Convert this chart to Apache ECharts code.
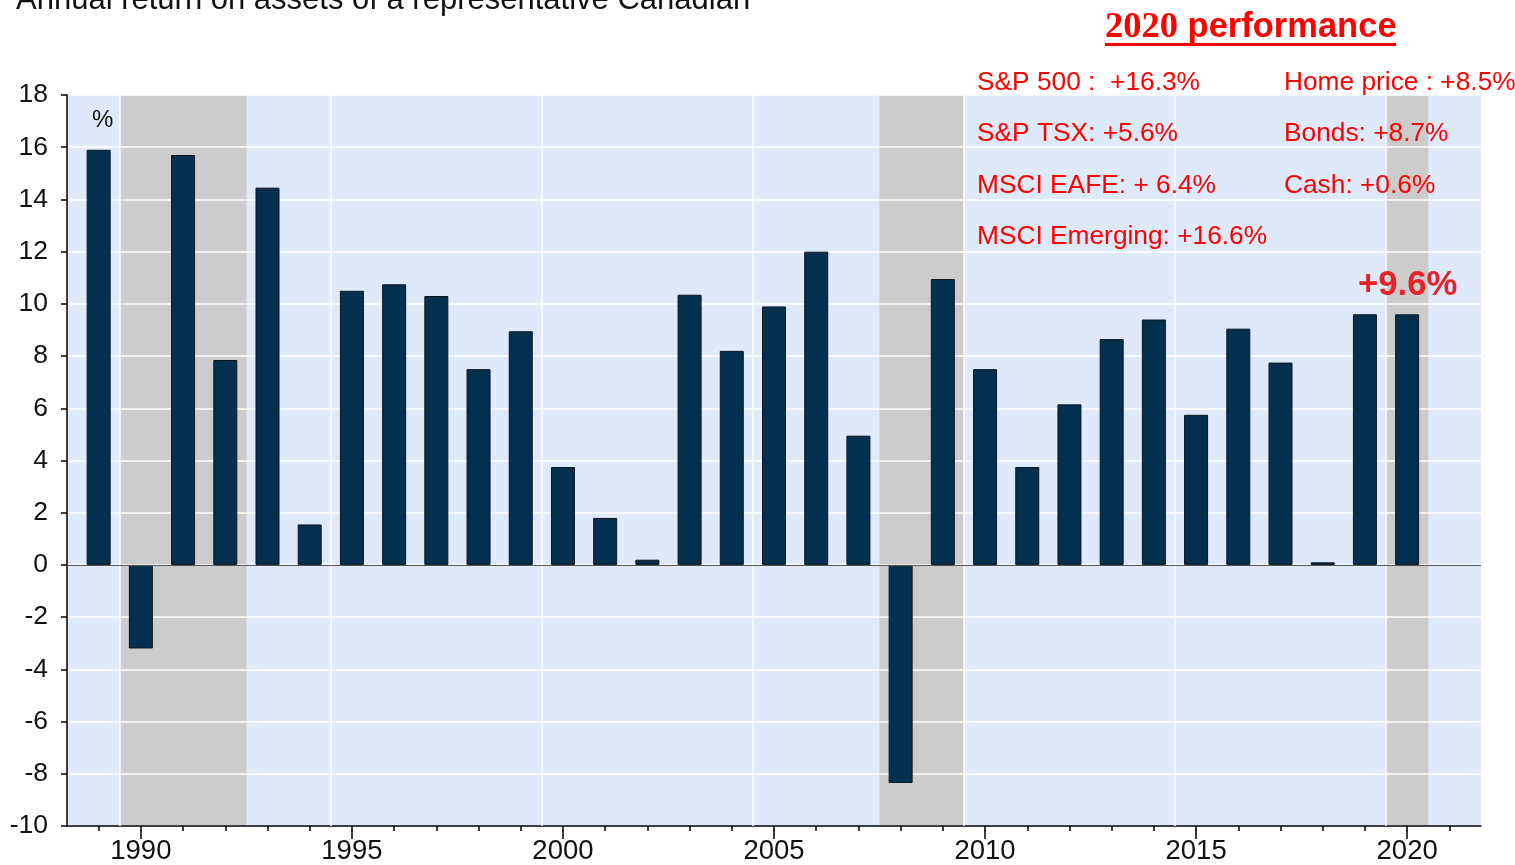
<!DOCTYPE html>
<html>
<head>
<meta charset="utf-8">
<script src="https://cdn.jsdelivr.net/npm/echarts@6/dist/echarts.min.js"></script>
<style>
html,body{margin:0;padding:0;background:#fff;}
#chart{width:1515px;height:865px;}
</style>
</head>
<body>
<div id="chart"></div>
<script>
// ---- data ----
const years = [1989,1990,1991,1992,1993,1994,1995,1996,1997,1998,1999,2000,2001,2002,2003,2004,
               2005,2006,2007,2008,2009,2010,2011,2012,2013,2014,2015,2016,2017,2018,2019,2020];
const returns = [15.9,-3.2,15.7,7.85,14.45,1.55,10.5,10.75,10.3,7.5,8.95,3.75,1.8,0.2,10.35,8.2,
                 9.9,12.0,4.95,-8.35,10.95,7.5,3.75,6.15,8.65,9.4,5.75,9.05,7.75,0.1,9.6,9.6];
const recessions = [[1990,1992],[2008,2009],[2020,2020]];
const xLabelYears = [1990,1995,2000,2005,2010,2015,2020];
const xTickYears = [1989,1990,1991,1992,1993,1994,1995,1996,1997,1998,1999,2000,2001,2002,2003,2004,2005,
                    2006,2007,2008,2009,2010,2011,2012,2013,2014,2015,2016,2017,2018,2019,2020,2021];
const yTicks = [-10,-8,-6,-4,-2,0,2,4,6,8,10,12,14,16,18];
const titleText = 'Annual return on assets of a representative Canadian';
const perfTitleYear = '2020';
const perfTitleRest = ' performance';
const perfLeft = ['S&P 500 :  +16.3%','S&P TSX: +5.6%','MSCI EAFE: + 6.4%','MSCI Emerging: +16.6%'];
const perfRight = ['Home price : +8.5%','Bonds: +8.7%','Cash: +0.6%'];
const latestLabel = '+9.6%';

// ---- chart ----
const X_MIN = 1988.25, X_MAX = 2021.75;
const FONT = '"Liberation Sans", Arial, sans-serif';
const chart = echarts.init(document.getElementById('chart'), null, {renderer:'canvas'});

const gridBox = {left:67, right:34, top:95, bottom:35};

const graphics = [
  {type:'text', left:16, top:-15, z:100, style:{text:titleText, font:'31px ' + FONT, fill:'#111'}},
  {type:'text', left:1105, top:9, z:100, style:{
    text:'{a|' + perfTitleYear + '}{b|' + perfTitleRest + '}',
    rich:{
      a:{fontFamily:'"Liberation Serif", "Times New Roman", serif', fontWeight:'bold', fontSize:36.5, fill:'#ff0000', color:'#ff0000'},
      b:{fontFamily:FONT, fontWeight:'bold', fontSize:34.5, fill:'#ff0000', color:'#ff0000'}
    }
  }},
  {type:'rect', left:1105, top:43, z:100, shape:{width:291, height:3}, style:{fill:'#ff0000'}},
  {type:'text', left:92, top:108, z:100, style:{text:'%', font:'24px ' + FONT, fill:'#111'}},
  {type:'text', left:1358, top:268, z:100, style:{text:latestLabel, font:'bold 34.7px ' + FONT, fill:'#e82229'}}
];
const rowTops = [70,121,173,224];
perfLeft.forEach((t,i)=>graphics.push({type:'text', left:977, top:rowTops[i], z:100,
  style:{text:t, font:'26.3px ' + FONT, fill:'#ff0000'}}));
perfRight.forEach((t,i)=>graphics.push({type:'text', left:1284, top:rowTops[i], z:100,
  style:{text:t, font:'26.3px ' + FONT, fill:'#ff0000'}}));

const option = {
  animation:false,
  backgroundColor:'#ffffff',
  grid:[
    Object.assign({show:true, backgroundColor:'#dee9fa', borderWidth:0, z:0}, gridBox),
    Object.assign({show:false}, gridBox)
  ],
  xAxis:[
    {type:'value', gridIndex:0, min:X_MIN, max:X_MAX, z:1.5,
     axisLine:{show:true, onZero:false, lineStyle:{color:'#000', width:1.5}},
     axisTick:{show:true, customValues:xTickYears, length:5, lineStyle:{color:'#000', width:1.5}},
     axisLabel:{show:true, customValues:xLabelYears, fontSize:27.5, fontFamily:FONT, color:'#111', margin:11,
                formatter:v=>String(v)},
     splitLine:{show:false}},
    {type:'value', gridIndex:1, min:X_MIN, max:X_MAX, position:'bottom',
     axisLine:{show:false, onZero:false},
     axisTick:{show:true, customValues:xLabelYears, length:9, lineStyle:{color:'#000', width:1.5}},
     axisLabel:{show:false},
     splitLine:{show:false}}
  ],
  yAxis:[
    {type:'value', gridIndex:0, min:-10, max:18, interval:2, z:1.5,
     axisLine:{show:true, lineStyle:{color:'#000', width:1.5}},
     axisTick:{show:true, length:6, lineStyle:{color:'#000', width:1.5}},
     axisLabel:{fontSize:26.5, fontFamily:FONT, color:'#111', margin:19, padding:[0,0,11,0]},
     splitLine:{show:true, lineStyle:{color:'#ffffff', width:1.5}}},
    {type:'value', gridIndex:1, min:-10, max:18, show:false}
  ],
  graphic:graphics,
  series:[
    {type:'line', name:'recessions', xAxisIndex:0, yAxisIndex:0, data:[], z:1, silent:true,
     markArea:{silent:true, itemStyle:{color:'#cccccc'}, label:{show:false},
       data:recessions.map(r=>[{xAxis:r[0]-0.5},{xAxis:r[1]+0.5}])}},
    {type:'line', name:'vgrid', xAxisIndex:0, yAxisIndex:0, data:[], z:1.4, silent:true,
     markLine:{silent:true, symbol:['none','none'], label:{show:false},
       lineStyle:{color:'#ffffff', width:1.5, type:'solid'},
       data:xLabelYears.map(y=>({xAxis:y-0.5}))}},
    {type:'bar', name:'Return', xAxisIndex:0, yAxisIndex:0, z:2,
     data:years.map((y,i)=>[y, returns[i]]),
     barWidth:24,
     itemStyle:{color:'#02304e', borderColor:'#0b1620', borderWidth:1},
     markLine:{silent:true, symbol:['none','none'], label:{show:false},
       lineStyle:{color:'#555555', width:1.2, type:'solid'},
       data:[{yAxis:0}]}}
  ]
};
chart.setOption(option);
</script>
</body>
</html>
